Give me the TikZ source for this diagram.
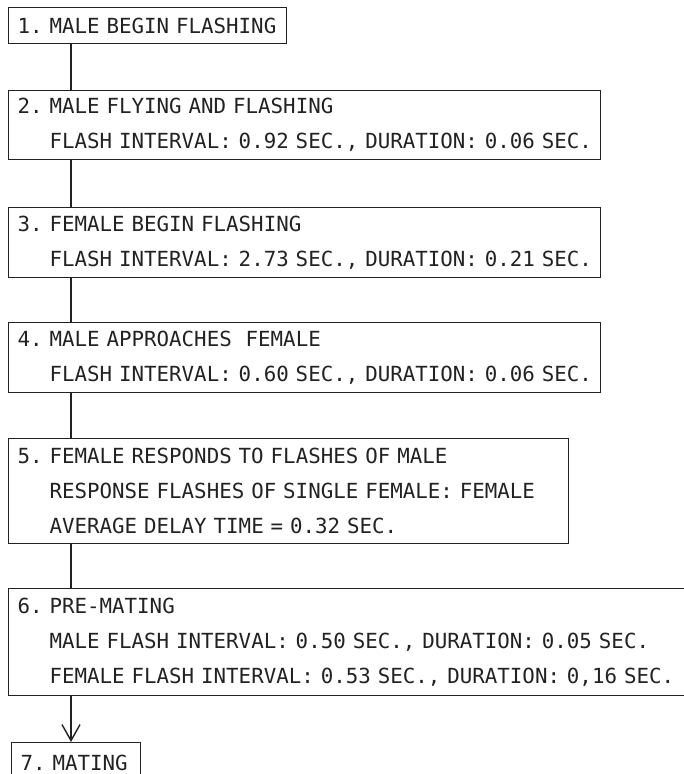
\documentclass[tikz,border=0pt]{standalone}
\usepackage{fontspec}
\setmonofont{DejaVu Sans Mono}
\usetikzlibrary{positioning, arrows.meta}
\definecolor{ink}{HTML}{222222}
\newcommand{\headline}[1]{\mbox{#1}}
\newcommand{\subline}[1]{\mbox{\phantom{0.\ }#1}}

\begin{document}
\begin{tikzpicture}[x=1pt, y=-1pt,
  every node/.style={font=\ttfamily\fontsize{20.8}{35}\selectfont\frenchspacing},
  stage/.style={draw=ink, line width=1.2pt, anchor=north west, inner xsep=9pt, inner ysep=0pt, align=left, text=ink},
  link/.style={draw=ink, line width=2pt}]
  \useasboundingbox (0,0) rectangle (683,774);

  % stages of the courtship
  \node[stage, text width=260pt, minimum height=36pt] (s1) at (8,7) {\headline{1. MALE BEGIN FLASHING}};
  \node[stage, text width=574pt, minimum height=69pt] (s2) at (8,90)
    {\headline{2. MALE FLYING AND FLASHING}\\ \subline{FLASH INTERVAL: 0.92 SEC., DURATION: 0.06 SEC.}};
  \node[stage, text width=574pt, minimum height=70pt] (s3) at (8,207)
    {\headline{3. FEMALE BEGIN FLASHING}\\ \subline{FLASH INTERVAL: 2.73 SEC., DURATION: 0.21 SEC.}};
  \node[stage, text width=574pt, minimum height=70pt] (s4) at (8,322)
    {\headline{4. MALE APPROACHES\ \ FEMALE}\\ \subline{FLASH INTERVAL: 0.60 SEC., DURATION: 0.06 SEC.}};
  \node[stage, text width=542pt, minimum height=105pt] (s5) at (8,438)
    {\headline{5. FEMALE RESPONDS TO FLASHES OF MALE}\\ \subline{RESPONSE FLASHES OF SINGLE FEMALE: FEMALE}\\ \subline{AVERAGE DELAY TIME = 0.32 SEC.}};
  \node[stage, text width=682pt, minimum height=107pt] (s6) at (8,588)
    {\headline{6. PRE-MATING}\\ \subline{MALE FLASH INTERVAL: 0.50 SEC., DURATION: 0.05 SEC.}\\ \subline{FEMALE FLASH INTERVAL: 0.53 SEC., DURATION: 0,16 SEC.}};
  \node[stage, text width=111pt, minimum height=40pt] (s7) at (11,742) {\headline{7. MATING}};

  % connectors
  \coordinate (spine) at (71,0);
  \foreach \a/\b in {s1/s2, s2/s3, s3/s4, s4/s5, s5/s6}
    \draw[link] (\a.south -| spine) -- (\b.north -| spine);
  \draw[link, line width=1.6pt, -{Straight Barb[length=16pt, width=18pt, line width=1.4pt]}] (s6.south -| spine) -- (s7.north -| spine);
\end{tikzpicture}
\end{document}
